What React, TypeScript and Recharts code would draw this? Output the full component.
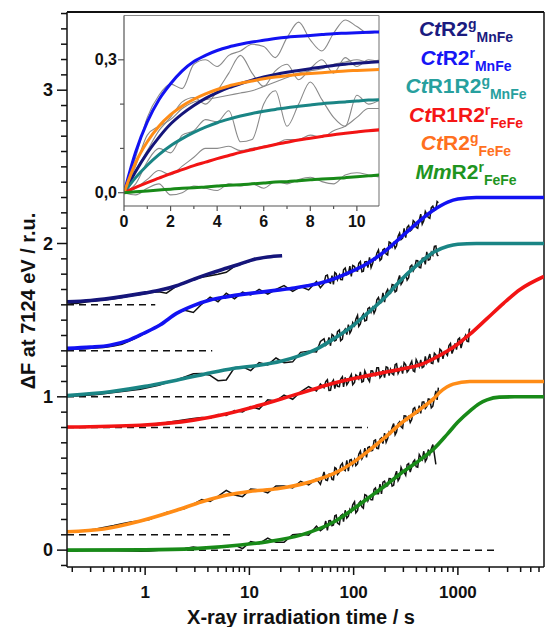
import { LineChart, Line, XAxis, YAxis, ReferenceLine } from "recharts";

const FONT = '"Liberation Sans", Arial, Helvetica, sans-serif';
const INK = "#111";

// main panel axes (log time axis)
const xMin = 0.178;
const xMax = 6700;
const yMin = -0.11;
const yMax = 3.51;
const xTicks = [
  0.2, 0.3, 0.4, 0.5, 0.6, 0.7, 0.8, 0.9, 1, 2, 3, 4, 5, 6, 7, 8, 9, 10, 20, 30, 40, 50, 60, 70, 80, 90,
  100, 200, 300, 400, 500, 600, 700, 800, 900, 1000, 2000, 3000, 4000, 5000, 6000,
];
const xMajor = [1, 10, 100, 1000];
const yTicks = [
  -0.1, 0, 0.1, 0.2, 0.3, 0.4, 0.5, 0.6, 0.7, 0.8, 0.9, 1, 1.1, 1.2, 1.3, 1.4, 1.5, 1.6, 1.7, 1.8, 1.9, 2,
  2.1, 2.2, 2.3, 2.4, 2.5, 2.6, 2.7, 2.8, 2.9, 3, 3.1, 3.2, 3.3, 3.4, 3.5,
];
const yMajor = [0, 1, 2, 3];

// measured traces share one time grid (s)
const tData = [
  0.18, 0.22, 0.27, 0.33, 0.4, 0.5, 0.6, 0.75, 0.9, 1.1,
  1.35, 1.6, 2, 2.4, 2.9, 3.5, 4.2, 5, 6, 7.2,
  8.6, 10.3, 12.4, 15, 18, 21.5, 26, 31, 37, 44,
  48, 52, 54, 56, 58, 60, 62, 64, 66, 68,
  70, 73, 75, 78, 80, 83, 86, 89, 92, 95,
  98, 102, 105, 109, 112, 116, 120, 124, 128, 133,
  137, 142, 147, 152, 157, 162, 167, 173, 179, 185,
  191, 198, 205, 212, 219, 226, 234, 242, 250, 258,
  267, 276, 285, 295, 305, 316, 326, 337, 349, 361,
  373, 385, 398, 412, 426, 440, 455, 471, 487, 503,
  520, 538, 556, 575, 595, 615, 632, 650, 672, 695,
  719, 743, 768, 794, 821, 849, 878, 907, 938, 970,
  1003, 1037, 1072, 1108, 1146, 1185, 1225, 1266, 1283, 1300,
];

const measCtR2gMnFe = [
  1.612, 1.608, 1.618, 1.626, 1.632, 1.64, 1.648, 1.66, 1.668, 1.678,
  1.685, 1.676, 1.722, 1.742, 1.765, 1.78, 1.79, 1.8, 1.812, 1.85,
  1.87, 1.885,
];
const measCtR2rMnFe = [
  1.313, 1.312, 1.314, 1.318, 1.322, 1.331, 1.343, 1.372, 1.398, 1.43,
  1.468, 1.5, 1.548, 1.565, 1.55, 1.605, 1.65, 1.62, 1.675, 1.64,
  1.683, 1.664, 1.701, 1.67, 1.701, 1.725, 1.688, 1.719, 1.697, 1.752,
  1.712, 1.739, 1.79, 1.794, 1.747, 1.742, 1.79, 1.733, 1.811, 1.803,
  1.764, 1.795, 1.765, 1.764, 1.829, 1.84, 1.796, 1.803, 1.852, 1.785,
  1.857, 1.85, 1.823, 1.82, 1.87, 1.882, 1.816, 1.819, 1.88, 1.882,
  1.843, 1.91, 1.843, 1.869, 1.902, 1.895, 1.937, 1.958, 1.89, 1.9,
  1.959, 1.966, 1.931, 1.925, 2.01, 2.005, 1.978, 2.002, 1.969, 1.985,
  2.048, 2.068, 2.026, 2.035, 2.099, 2.038, 2.106, 2.117, 2.082, 2.091,
  2.15, 2.14, 2.106, 2.099, 2.152, 2.192, 2.126, 2.148, 2.21, 2.191,
  2.17, 2.164, 2.234, 2.244, 2.216, 2.222, 2.274, 2.266,
];
const measCtR1R2gMnFe = [
  1.005, 1.006, 1.01, 1.014, 1.02, 1.028, 1.034, 1.042, 1.05, 1.062,
  1.075, 1.092, 1.11, 1.13, 1.15, 1.152, 1.14, 1.105, 1.11, 1.19,
  1.196, 1.171, 1.224, 1.208, 1.253, 1.223, 1.228, 1.29, 1.298, 1.292,
  1.361, 1.379, 1.336, 1.347, 1.387, 1.333, 1.407, 1.399, 1.365, 1.37,
  1.425, 1.436, 1.366, 1.376, 1.426, 1.442, 1.406, 1.471, 1.415, 1.433,
  1.484, 1.464, 1.506, 1.531, 1.459, 1.475, 1.524, 1.54, 1.495, 1.5,
  1.575, 1.583, 1.552, 1.581, 1.545, 1.566, 1.633, 1.648, 1.61, 1.617,
  1.678, 1.617, 1.68, 1.7, 1.67, 1.676, 1.733, 1.729, 1.684, 1.691,
  1.761, 1.792, 1.734, 1.751, 1.786, 1.799, 1.761, 1.776, 1.85, 1.859,
  1.822, 1.841, 1.889, 1.888, 1.844, 1.841, 1.903, 1.906, 1.864, 1.945,
  1.891, 1.896, 1.942, 1.925, 1.982, 1.984, 1.926, 1.918,
];
const measCtR1R2rFeFe = [
  0.802, 0.803, 0.804, 0.805, 0.806, 0.808, 0.81, 0.813, 0.817, 0.82,
  0.826, 0.832, 0.842, 0.85, 0.858, 0.865, 0.86, 0.885, 0.878, 0.91,
  0.901, 0.936, 0.92, 0.981, 0.973, 1.011, 0.984, 1.033, 1.067, 1.038,
  1.084, 1.059, 1.099, 1.111, 1.042, 1.043, 1.095, 1.109, 1.054, 1.098,
  1.069, 1.067, 1.115, 1.131, 1.065, 1.127, 1.079, 1.096, 1.125, 1.145,
  1.079, 1.094, 1.143, 1.133, 1.117, 1.162, 1.096, 1.102, 1.169, 1.141,
  1.118, 1.1, 1.17, 1.169, 1.141, 1.138, 1.19, 1.19, 1.124, 1.136,
  1.174, 1.125, 1.196, 1.191, 1.139, 1.179, 1.151, 1.143, 1.209, 1.215,
  1.153, 1.174, 1.193, 1.151, 1.223, 1.209, 1.162, 1.174, 1.21, 1.232,
  1.17, 1.164, 1.243, 1.222, 1.197, 1.241, 1.19, 1.197, 1.264, 1.22,
  1.248, 1.279, 1.22, 1.217, 1.285, 1.274, 1.253, 1.225, 1.311, 1.301,
  1.247, 1.293, 1.284, 1.271, 1.334, 1.348, 1.282, 1.309, 1.349, 1.308,
  1.375, 1.384, 1.318, 1.355, 1.38, 1.402, 1.362, 1.36, 1.435, 1.445,
];
const measCtR2gFeFe = [
  0.118, 0.122, 0.128, 0.136, 0.148, 0.16, 0.172, 0.185, 0.19, 0.2,
  0.225, 0.245, 0.258, 0.272, 0.3, 0.33, 0.318, 0.35, 0.39, 0.36,
  0.349, 0.399, 0.393, 0.374, 0.419, 0.419, 0.405, 0.449, 0.425, 0.465,
  0.429, 0.51, 0.458, 0.454, 0.496, 0.497, 0.462, 0.459, 0.538, 0.532,
  0.493, 0.508, 0.552, 0.567, 0.529, 0.519, 0.585, 0.516, 0.587, 0.591,
  0.555, 0.59, 0.551, 0.564, 0.625, 0.646, 0.595, 0.615, 0.665, 0.605,
  0.669, 0.674, 0.648, 0.65, 0.714, 0.719, 0.664, 0.662, 0.724, 0.732,
  0.695, 0.763, 0.704, 0.728, 0.77, 0.758, 0.8, 0.826, 0.753, 0.771,
  0.825, 0.837, 0.805, 0.795, 0.876, 0.875, 0.85, 0.87, 0.833, 0.852,
  0.922, 0.93, 0.891, 0.893, 0.943, 0.892, 0.965, 0.967, 0.924, 0.937,
  0.986, 0.983, 0.928, 0.939, 0.993, 1.039, 0.98, 1.06,
];
const measMmR2rFeFe = [
  0.0, -0.002, 0.0, 0.0, -0.002, -0.003, -0.004, -0.006, -0.008, -0.006,
  0.0, 0.003, 0.004, 0.01, 0.02, 0.01, 0.015, 0.022, 0.02, 0.033,
  0.01, 0.056, 0.042, 0.078, 0.051, 0.051, 0.101, 0.105, 0.097, 0.156,
  0.126, 0.146, 0.19, 0.129, 0.192, 0.193, 0.159, 0.164, 0.224, 0.228,
  0.176, 0.168, 0.224, 0.233, 0.186, 0.26, 0.209, 0.221, 0.266, 0.25,
  0.296, 0.316, 0.243, 0.257, 0.306, 0.318, 0.282, 0.273, 0.362, 0.356,
  0.322, 0.348, 0.328, 0.328, 0.396, 0.405, 0.368, 0.368, 0.43, 0.367,
  0.443, 0.45, 0.415, 0.42, 0.467, 0.466, 0.418, 0.423, 0.486, 0.515,
  0.453, 0.47, 0.54, 0.514, 0.509, 0.488, 0.557, 0.565, 0.509, 0.543,
  0.576, 0.588, 0.545, 0.541, 0.623, 0.606, 0.59, 0.645, 0.579, 0.596,
  0.656, 0.625, 0.661, 0.689, 0.624, 0.56,
];

// fitted kinetics
const fitCtR2gMnFeT = [0.178, 0.3, 0.46, 1, 1.4, 2, 2.9, 4.2, 6.1, 8, 11, 15, 20.6];
const fitCtR2gMnFeY = [1.62, 1.628, 1.642, 1.678, 1.696, 1.725, 1.766, 1.805, 1.84, 1.865, 1.896, 1.912, 1.92];
const fitCtR2rMnFeT = [
  0.178, 0.3, 0.46, 0.7, 0.96, 1.4, 2, 2.9, 4.2, 6, 8.9, 13, 18.5, 27, 36, 50, 65, 90, 135, 200, 283, 400,
  590, 800, 1000, 1500, 2500, 6700,
];
const fitCtR2rMnFeY = [
  1.316, 1.324, 1.337, 1.37, 1.413, 1.47, 1.544, 1.595, 1.631, 1.652, 1.67, 1.683, 1.696, 1.71, 1.724, 1.745,
  1.77, 1.81, 1.87, 1.95, 2.04, 2.13, 2.22, 2.27, 2.29, 2.3, 2.3, 2.3,
];
const fitCtR1R2gMnFeT = [
  0.178, 0.46, 1, 1.4, 2, 4, 7, 12.8, 20, 31, 45, 65, 100, 135, 200, 283, 400, 590, 800, 1000, 1500, 2500, 6700,
];
const fitCtR1R2gMnFeY = [
  1.008, 1.033, 1.068, 1.087, 1.108, 1.153, 1.185, 1.207, 1.232, 1.27, 1.315, 1.38, 1.468, 1.544, 1.65, 1.761,
  1.855, 1.945, 1.982, 1.995, 2.0, 2.0, 2.0,
];
const fitCtR1R2rFeFeT = [
  0.178, 0.9, 2.9, 6.1, 12.8, 26.6, 38.7, 60, 80, 130, 200, 283, 437, 590, 800, 1000, 1315, 1900, 2740, 3950, 6700,
];
const fitCtR1R2rFeFeY = [
  0.803, 0.815, 0.848, 0.89, 0.946, 1.011, 1.044, 1.083, 1.105, 1.135, 1.16, 1.18, 1.21, 1.25, 1.3, 1.345,
  1.41, 1.51, 1.61, 1.7, 1.785,
];
const fitCtR2gFeFeT = [
  0.178, 0.4, 0.9, 2, 3.5, 6.1, 10, 18.5, 38.7, 65, 100, 135, 200, 283, 437, 590, 680, 900, 1300, 2000, 6700,
];
const fitCtR2gFeFeY = [
  0.12, 0.138, 0.19, 0.26, 0.315, 0.359, 0.383, 0.4, 0.446, 0.5, 0.574, 0.641, 0.735, 0.826, 0.92, 0.99, 1.033,
  1.083, 1.1, 1.1, 1.1,
];
const fitMmR2rFeFeT = [
  0.178, 1, 3, 8.2, 15, 31, 65, 100, 135, 200, 283, 437, 590, 800, 1000, 1315, 1600, 1900, 2500, 3500, 6700,
];
const fitMmR2rFeFeY = [
  0, 0.002, 0.01, 0.033, 0.055, 0.098, 0.185, 0.27, 0.335, 0.42, 0.5, 0.59, 0.662, 0.76, 0.835, 0.91, 0.955,
  0.98, 0.998, 1.0, 1.0,
];

// dashed pre-irradiation baselines: level and where the dashes stop
const baseLevel = [1.6, 1.3, 1.0, 0.8, 0.1, 0.0];
const baseEnd = [1.25, 4.4, 13.3, 137, 7.0, 2300];

// inset: first seconds on a linear scale
const tInset = [0, 0.5, 1, 1.5, 2, 2.5, 3, 3.5, 4, 4.5, 5, 5.5, 6, 6.5, 7, 7.5, 8, 8.5, 9, 9.5, 10, 10.5, 11];
const insetFitCtR2rMnFe = [
  0, 0.092, 0.16, 0.21, 0.246, 0.275, 0.296, 0.31, 0.321, 0.329, 0.335, 0.34, 0.344, 0.348, 0.351, 0.353, 0.355,
  0.357, 0.359, 0.36, 0.361, 0.362, 0.363,
];
const insetFitCtR2gMnFe = [
  0, 0.048, 0.09, 0.125, 0.155, 0.178, 0.197, 0.213, 0.226, 0.237, 0.246, 0.254, 0.261, 0.267, 0.272, 0.276,
  0.28, 0.284, 0.287, 0.29, 0.292, 0.294, 0.296,
];
const insetFitCtR2gFeFe = [
  0, 0.068, 0.115, 0.15, 0.176, 0.196, 0.211, 0.223, 0.233, 0.241, 0.247, 0.252, 0.257, 0.261, 0.264, 0.267,
  0.269, 0.271, 0.273, 0.275, 0.276, 0.277, 0.278,
];
const insetFitCtR1R2gMnFe = [
  0, 0.034, 0.062, 0.086, 0.106, 0.122, 0.136, 0.148, 0.158, 0.166, 0.173, 0.179, 0.184, 0.188, 0.192, 0.195,
  0.198, 0.201, 0.203, 0.205, 0.207, 0.209, 0.21,
];
const insetFitCtR1R2rFeFe = [
  0, 0.012, 0.023, 0.033, 0.043, 0.052, 0.061, 0.069, 0.077, 0.084, 0.091, 0.097, 0.103, 0.109, 0.114, 0.119,
  0.123, 0.127, 0.131, 0.134, 0.137, 0.14, 0.142,
];
const insetFitMmR2rFeFe = [
  0, 0.002, 0.004, 0.006, 0.008, 0.01, 0.011, 0.013, 0.015, 0.017, 0.018, 0.02, 0.022, 0.024, 0.025, 0.027,
  0.029, 0.031, 0.032, 0.034, 0.036, 0.038, 0.04,
];
const insetMeas = [
  [0, 0.08, 0.17, 0.22, 0.245, 0.235, 0.29, 0.3, 0.285, 0.31, 0.32, 0.335, 0.33, 0.305, 0.35, 0.385, 0.345, 0.32,
    0.36, 0.39, 0.375, 0.36, 0.365],
  [0, 0.05, 0.095, 0.14, 0.17, 0.205, 0.215, 0.2, 0.23, 0.27, 0.31, 0.27, 0.24, 0.275, 0.29, 0.255, 0.28, 0.3,
    0.27, 0.305, 0.285, 0.3, 0.295],
  [0, 0.06, 0.13, 0.15, 0.165, 0.19, 0.205, 0.21, 0.215, 0.22, 0.225, 0.23, 0.24, 0.25, 0.26, 0.27, 0.275, 0.28,
    0.29, 0.295, 0.3, 0.295, 0.3],
  [0, 0.02, 0.07, 0.1, 0.09, 0.13, 0.14, 0.165, 0.16, 0.185, 0.115, 0.12, 0.2, 0.23, 0.15, 0.2, 0.25, 0.21, 0.17,
    0.15, 0.22, 0.2, 0.21],
  [0, 0.01, 0.03, 0.05, 0.04, 0.06, 0.08, 0.1, 0.1, 0.105, 0.095, 0.1, 0.105, 0.11, 0.12, 0.12, 0.13, 0.125, 0.14,
    0.15, 0.17, 0.19, 0.19],
  [0, -0.005, 0.01, 0.02, -0.005, 0.0, 0.015, 0.01, 0.005, 0.02, 0.015, 0.02, 0.01, 0.025, 0.02, 0.03, 0.035,
    0.025, 0.02, 0.04, 0.045, 0.04, 0.035],
];
const insetTicksX = [0, 1, 2, 3, 4, 5, 6, 7, 8, 9, 10];
const insetTicksY = [0, 0.1, 0.2, 0.3];
const insetLabelY = [0, 0.3];

const series = [
  { pre: "Ct", main: "R2", sup: "g", sub: "MnFe", line: "#15157a", text: "#1b1b80", meas: measCtR2gMnFe, fitT: fitCtR2gMnFeT, fitY: fitCtR2gMnFeY, inset: insetFitCtR2gMnFe },
  { pre: "Ct", main: "R2", sup: "r", sub: "MnFe", line: "#1212f2", text: "#1616f5", meas: measCtR2rMnFe, fitT: fitCtR2rMnFeT, fitY: fitCtR2rMnFeY, inset: insetFitCtR2rMnFe },
  { pre: "Ct", main: "R1R2", sup: "g", sub: "MnFe", line: "#1a8585", text: "#27a09e", meas: measCtR1R2gMnFe, fitT: fitCtR1R2gMnFeT, fitY: fitCtR1R2gMnFeY, inset: insetFitCtR1R2gMnFe },
  { pre: "Ct", main: "R1R2", sup: "r", sub: "FeFe", line: "#f21414", text: "#f51616", meas: measCtR1R2rFeFe, fitT: fitCtR1R2rFeFeT, fitY: fitCtR1R2rFeFeY, inset: insetFitCtR1R2rFeFe },
  { pre: "Ct", main: "R2", sup: "g", sub: "FeFe", line: "#ff8c16", text: "#ff7020", meas: measCtR2gFeFe, fitT: fitCtR2gFeFeT, fitY: fitCtR2gFeFeY, inset: insetFitCtR2gFeFe },
  { pre: "Mm", main: "R2", sup: "r", sub: "FeFe", line: "#188a18", text: "#1f951f", meas: measMmR2rFeFe, fitT: fitMmR2rFeFeT, fitY: fitMmR2rFeFeY, inset: insetFitMmR2rFeFe },
];

const measPoints = (vals: number[]) => vals.map((y, i) => ({ t: tData[i], y }));
const fitPoints = (ts: number[], ys: number[]) => ts.map((t, i) => ({ t, y: ys[i] }));
const insetPoints = (vals: number[]) => vals.map((y, i) => ({ t: tInset[i], y }));

const labelText = { fontFamily: FONT, fontWeight: "bold" as const, fill: INK };

function MainXTick(props: any) {
  const { x, y, payload } = props;
  const major = xMajor.includes(payload.value);
  return (
    <g>
      <line x1={x} x2={x} y1={y} y2={y + (major ? 8 : 5)} stroke={INK} strokeWidth={1.5} />
      {major && (
        <text x={x} y={y + 31} textAnchor="middle" fontSize={17} {...labelText}>
          {payload.value}
        </text>
      )}
    </g>
  );
}

function MainYTick(props: any) {
  const { x, y, payload } = props;
  const major = yMajor.includes(payload.value);
  return (
    <g>
      <line x1={x - (major ? 10 : 6)} x2={x} y1={y} y2={y} stroke={INK} strokeWidth={1.5} />
      {major && (
        <text x={x - 14} y={y + 6} textAnchor="end" fontSize={18} {...labelText}>
          {payload.value}
        </text>
      )}
    </g>
  );
}

function InsetXTick(props: any) {
  const { x, y, payload } = props;
  const major = payload.value % 2 === 0;
  return (
    <g>
      <line x1={x} x2={x} y1={y} y2={y + (major ? 5 : 3)} stroke="#555" strokeWidth={1.2} />
      {major && (
        <text x={x} y={y + 20.5} textAnchor="middle" fontSize={16} {...labelText}>
          {payload.value}
        </text>
      )}
    </g>
  );
}

function InsetYTick(props: any) {
  const { x, y, payload } = props;
  const major = insetLabelY.includes(payload.value);
  return (
    <g>
      <line x1={x - (major ? 6 : 4)} x2={x} y1={y} y2={y} stroke="#555" strokeWidth={1.2} />
      {major && (
        <text x={x - 7} y={y + 5.5} textAnchor="end" fontSize={16} {...labelText}>
          {payload.value.toFixed(1).replace(".", ",")}
        </text>
      )}
    </g>
  );
}

export default function App() {
  return (
    <div style={{ position: "absolute", left: 0, top: 0, width: 546, height: 627, background: "#fff" }}>
      <LineChart width={546} height={627} margin={{ top: 12, right: 2, bottom: 0, left: 0 }}>
        <XAxis
          dataKey="t"
          type="number"
          scale="log"
          domain={[xMin, xMax]}
          allowDataOverflow
          ticks={xTicks}
          interval={0}
          tickSize={0}
          tickMargin={0}
          tickLine={false}
          tick={MainXTick}
          height={60}
          axisLine={{ stroke: INK, strokeWidth: 1.5 }}
        />
        <YAxis
          type="number"
          domain={[yMin, yMax]}
          allowDataOverflow
          ticks={yTicks}
          interval={0}
          tickSize={0}
          tickMargin={0}
          tickLine={false}
          tick={MainYTick}
          width={67}
          axisLine={{ stroke: INK, strokeWidth: 1.5 }}
        />
        <ReferenceLine y={yMax} stroke={INK} strokeWidth={2} />
        <ReferenceLine x={xMax} stroke={INK} strokeWidth={1.5} />
        {baseLevel.map((lv, i) => (
          <ReferenceLine
            key={`base-${i}`}
            segment={[{ x: xMin, y: lv }, { x: baseEnd[i], y: lv }]}
            stroke={INK}
            strokeWidth={1.5}
            strokeDasharray="7 5"
          />
        ))}
        {series.map((s, i) => (
          <Line
            key={`meas-${i}`}
            data={measPoints(s.meas)}
            dataKey="y"
            type="linear"
            stroke={INK}
            strokeWidth={1.5}
            dot={false}
            activeDot={false}
            isAnimationActive={false}
          />
        ))}
        {series.map((s, i) => (
          <Line
            key={`fit-${i}`}
            data={fitPoints(s.fitT, s.fitY)}
            dataKey="y"
            type="monotone"
            stroke={s.line}
            strokeWidth={3.6}
            dot={false}
            activeDot={false}
            isAnimationActive={false}
          />
        ))}
      </LineChart>

      <div style={{ position: "absolute", left: 0, top: 0 }}>
        <LineChart width={400} height={240} margin={{ top: 15.5, right: 21, bottom: 0, left: 0 }}>
          <XAxis
            dataKey="t"
            type="number"
            domain={[0, 10.95]}
            allowDataOverflow
            ticks={insetTicksX}
            interval={0}
            tickSize={0}
            tickMargin={0}
            tickLine={false}
            tick={InsetXTick}
            height={34}
            axisLine={{ stroke: "#555", strokeWidth: 1.2 }}
          />
          <YAxis
            type="number"
            domain={[-0.03, 0.4]}
            allowDataOverflow
            ticks={insetTicksY}
            interval={0}
            tickSize={0}
            tickMargin={0}
            tickLine={false}
            tick={InsetYTick}
            width={124}
            axisLine={{ stroke: "#555", strokeWidth: 1.2 }}
          />
          <ReferenceLine y={0.4} stroke="#888" strokeWidth={1.2} />
          <ReferenceLine x={10.95} stroke="#888" strokeWidth={1.2} />
          {insetMeas.map((vals, i) => (
            <Line
              key={`im-${i}`}
              data={insetPoints(vals)}
              dataKey="y"
              type="monotone"
              stroke="#8a8a8a"
              strokeWidth={1.1}
              dot={false}
              activeDot={false}
              isAnimationActive={false}
            />
          ))}
          {series.map((s, i) => (
            <Line
              key={`if-${i}`}
              data={insetPoints(s.inset)}
              dataKey="y"
              type="monotone"
              stroke={s.line}
              strokeWidth={3}
              dot={false}
              activeDot={false}
              isAnimationActive={false}
            />
          ))}
        </LineChart>
      </div>

      <svg width={546} height={627} style={{ position: "absolute", left: 0, top: 0, pointerEvents: "none" }}>
        {series.map((s, i) => (
          <text
            key={`lg-${i}`}
            x={466}
            y={36 + i * 28.5}
            textAnchor="middle"
            fontSize={21}
            fontFamily={FONT}
            fontWeight="bold"
            fill={s.text}
          >
            <tspan fontStyle="italic">{s.pre}</tspan>
            {s.main}
            <tspan fontSize={14} dy={-7}>
              {s.sup}
            </tspan>
            <tspan fontSize={14} dy={13}>
              {s.sub}
            </tspan>
          </text>
        ))}
        <text transform="translate(35, 301) rotate(-90)" textAnchor="middle" fontSize={20} {...labelText}>
          ΔF at 7124 eV / r.u.
        </text>
        <text x={301} y={624} textAnchor="middle" fontSize={20} {...labelText}>
          X-ray irradiation time / s
        </text>
      </svg>
    </div>
  );
}
